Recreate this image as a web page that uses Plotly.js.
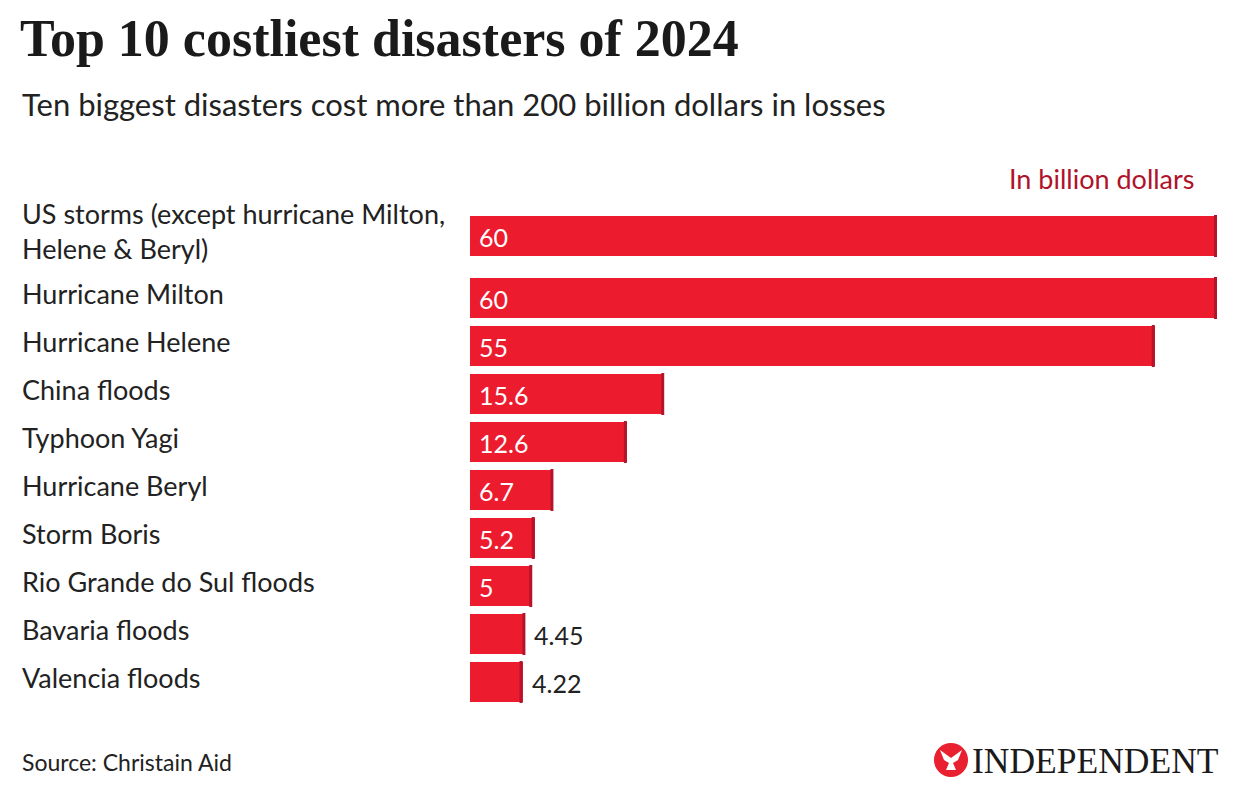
<!DOCTYPE html>
<html>
<head>
<meta charset="utf-8">
<script src="https://cdn.plot.ly/plotly-3.0.1.min.js"></script>
<style>
html,body{margin:0;padding:0;background:#fff;}
#chart{width:1240px;height:804px;}
</style>
</head>
<body>
<div id="chart"></div>
<script>
// ---- data ----
const disasters = [
  "US storms (except hurricane Milton,<br>Helene & Beryl)",
  "Hurricane Milton",
  "Hurricane Helene",
  "China floods",
  "Typhoon Yagi",
  "Hurricane Beryl",
  "Storm Boris",
  "Rio Grande do Sul floods",
  "Bavaria floods",
  "Valencia floods"
];
const lossesBn = [60, 60, 55, 15.6, 12.6, 6.7, 5.2, 5, 4.45, 4.22];
const titleText = "Top 10 costliest disasters of 2024";
const subtitleText = "Ten biggest disasters cost more than 200 billion dollars in losses";
const unitText = "In billion dollars";
const sourceText = "Source: Christain Aid";
const brandText = "INDEPENDENT";

// ---- layout constants (pixels) ----
const W = 1240, H = 804;
const plotL = 470, plotR = 20;
const plotW = W - plotL - plotR;
const firstRow = 236, rowStep = 48, extraLine = 14, barH = 40;
const insideMin = 5;
const RED = "#ec1b2e", DARKRED = "#b5152b", TEXT = "#222222";
const SANS = "Lato, 'Open Sans', sans-serif";
const SERIF = "'Liberation Serif', 'DejaVu Serif', serif";

// row centres derived from number of label lines
const centres = [];
disasters.forEach((d, i) => {
  if (i === 0) { centres.push(firstRow); return; }
  const prevLines = disasters[i - 1].split("<br>").length;
  centres.push(centres[i - 1] + rowStep + extraLine * (prevLines - 1));
});

const px = x => (x - plotL) / plotW; // pixel -> paper x
const xMax = 60 * plotW / (plotW - 3);

const trace = {
  type: "bar",
  orientation: "h",
  x: lossesBn,
  y: centres,
  width: barH,
  marker: {color: RED, line: {width: 0}},
  hoverinfo: "skip",
  showlegend: false
};

const annotations = [];
disasters.forEach((d, i) => {
  annotations.push({
    xref: "paper", yref: "y", x: px(20), y: centres[i] - 5,
    xanchor: "left", yanchor: "middle", align: "left",
    text: d, showarrow: false,
    font: {family: SANS, size: 27, color: TEXT}
  });
  const v = lossesBn[i];
  const inside = v >= insideMin;
  annotations.push({
    xref: "x", yref: "y", x: inside ? 0 : v, y: centres[i] + 1,
    xanchor: "left", yanchor: "middle", xshift: inside ? 7 : 7,
    text: String(v), showarrow: false,
    font: {family: SANS, size: 25, color: inside ? "#ffffff" : TEXT}
  });
});

annotations.push({
  xref: "paper", yref: "y", x: px(20), y: 104, xanchor: "left", yanchor: "middle",
  text: subtitleText, showarrow: false,
  font: {family: SANS, size: 31, color: TEXT}
});
annotations.push({
  xref: "paper", yref: "y", x: px(1196), y: 178, xanchor: "right", yanchor: "middle",
  text: unitText, showarrow: false,
  font: {family: SANS, size: 27, color: "#b0122a"}
});
annotations.push({
  xref: "paper", yref: "y", x: px(20), y: 762, xanchor: "left", yanchor: "middle",
  text: sourceText, showarrow: false,
  font: {family: SANS, size: 23, color: TEXT}
});
annotations.push({
  xref: "paper", yref: "y", x: px(970), y: 761, xanchor: "left", yanchor: "middle",
  text: brandText, showarrow: false,
  font: {family: SERIF, size: 35.5, color: "#1a1a1a"}
});

const shapes = [];
lossesBn.forEach((v, i) => {
  shapes.push({
    type: "rect", xref: "x", yref: "y", xsizemode: "pixel", xanchor: v,
    x0: -3, x1: 0, y0: centres[i] - barH / 2 - 1, y1: centres[i] + barH / 2 + 1,
    fillcolor: DARKRED, line: {width: 0}, layer: "above"
  });
});
// logo roundel
shapes.push({
  type: "circle", xref: "paper", yref: "y",
  x0: px(934), x1: px(968), y0: 743, y1: 777,
  fillcolor: "#e8202f", line: {width: 0}
});
// simplified eagle in white
shapes.push({
  type: "path", xref: "paper", yref: "y",
  path: "M " + px(940) + " 750 L " + px(951) + " 758 L " + px(962) + " 750 L " + px(958) + " 760 L " +
        px(953) + " 763 L " + px(956) + " 770 L " + px(946) + " 770 L " + px(949) + " 763 L " + px(944) + " 760 Z",
  fillcolor: "#ffffff", line: {width: 0}
});

const layout = {
  width: W, height: H,
  margin: {l: plotL, r: plotR, t: 0, b: 0, pad: 0},
  paper_bgcolor: "#ffffff", plot_bgcolor: "#ffffff",
  title: {
    text: "<b>" + titleText + "</b>",
    xref: "container", yref: "container",
    x: 20 / W, xanchor: "left", y: 1 - 38 / H, yanchor: "middle",
    font: {family: SERIF, size: 52, color: "#1a1a1a"}
  },
  xaxis: {range: [0, xMax], visible: false, fixedrange: true},
  yaxis: {range: [H, 0], visible: false, fixedrange: true},
  bargap: 0,
  annotations: annotations,
  shapes: shapes,
  showlegend: false
};

Plotly.newPlot("chart", [trace], layout, {displayModeBar: false, staticPlot: true});
</script>
</body>
</html>
